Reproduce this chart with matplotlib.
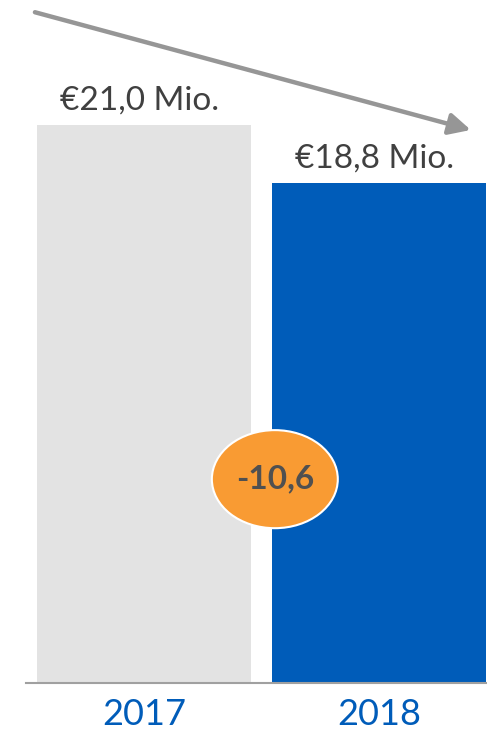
import matplotlib.pyplot as plt
from matplotlib.patches import Ellipse

years = ["2017", "2018"]
values = [21.0, 18.8]
value_labels = ["€21,0 Mio.", "€18,8 Mio."]
change_label = "-10,6"

bar_colors = ["#E3E3E3", "#005CB9"]
text_grey = "#404040"


def main():
    fig = plt.figure(figsize=(4.87, 7.31), dpi=100)
    ax = fig.add_axes([26 / 487, 48 / 731, 461 / 487, 683 / 731])

    x = list(range(len(years)))
    ax.bar(x, values, width=0.91, color=bar_colors, zorder=2)
    ax.set_xlim(-0.502, 1.46)
    ax.set_ylim(0, 25.7)

    for xi, v, lab in zip(x, values, value_labels):
        ax.annotate(lab, (xi, v), xytext=(-3, 7), textcoords="offset points",
                    ha="center", va="bottom", fontsize=24, family="Lato",
                    color=text_grey)

    for s in ["top", "left", "right"]:
        ax.spines[s].set_visible(False)
    ax.spines["bottom"].set_color("#A0A0A0")
    ax.spines["bottom"].set_linewidth(1.5)
    ax.set_yticks([])
    ax.set_xticks(x)
    ax.set_xticklabels(years, fontsize=26, family="Lato", color="#005CB9")
    ax.tick_params(axis="x", length=0, pad=11)

    # trend arrow
    ax.annotate("", xy=(1.391, 20.81), xytext=(-0.464, 25.24),
                arrowprops=dict(arrowstyle="-|>,head_length=1.3,head_width=0.65",
                                color="#969696", lw=3.2, shrinkA=0, shrinkB=0),
                annotation_clip=False)

    # change bubble
    cx = 0.557
    cy = 7.67
    ell = Ellipse((cx, cy), 0.536, 3.69, facecolor="#F99B33",
                  edgecolor="white", linewidth=1.5, zorder=3)
    ax.add_patch(ell)
    ax.text(cx, cy, change_label, ha="center", va="center", fontsize=24,
            family="Lato", fontweight="bold", color="#505050", zorder=4)

    fig.savefig("out.png", dpi=100)


if __name__ == "__main__":
    main()
